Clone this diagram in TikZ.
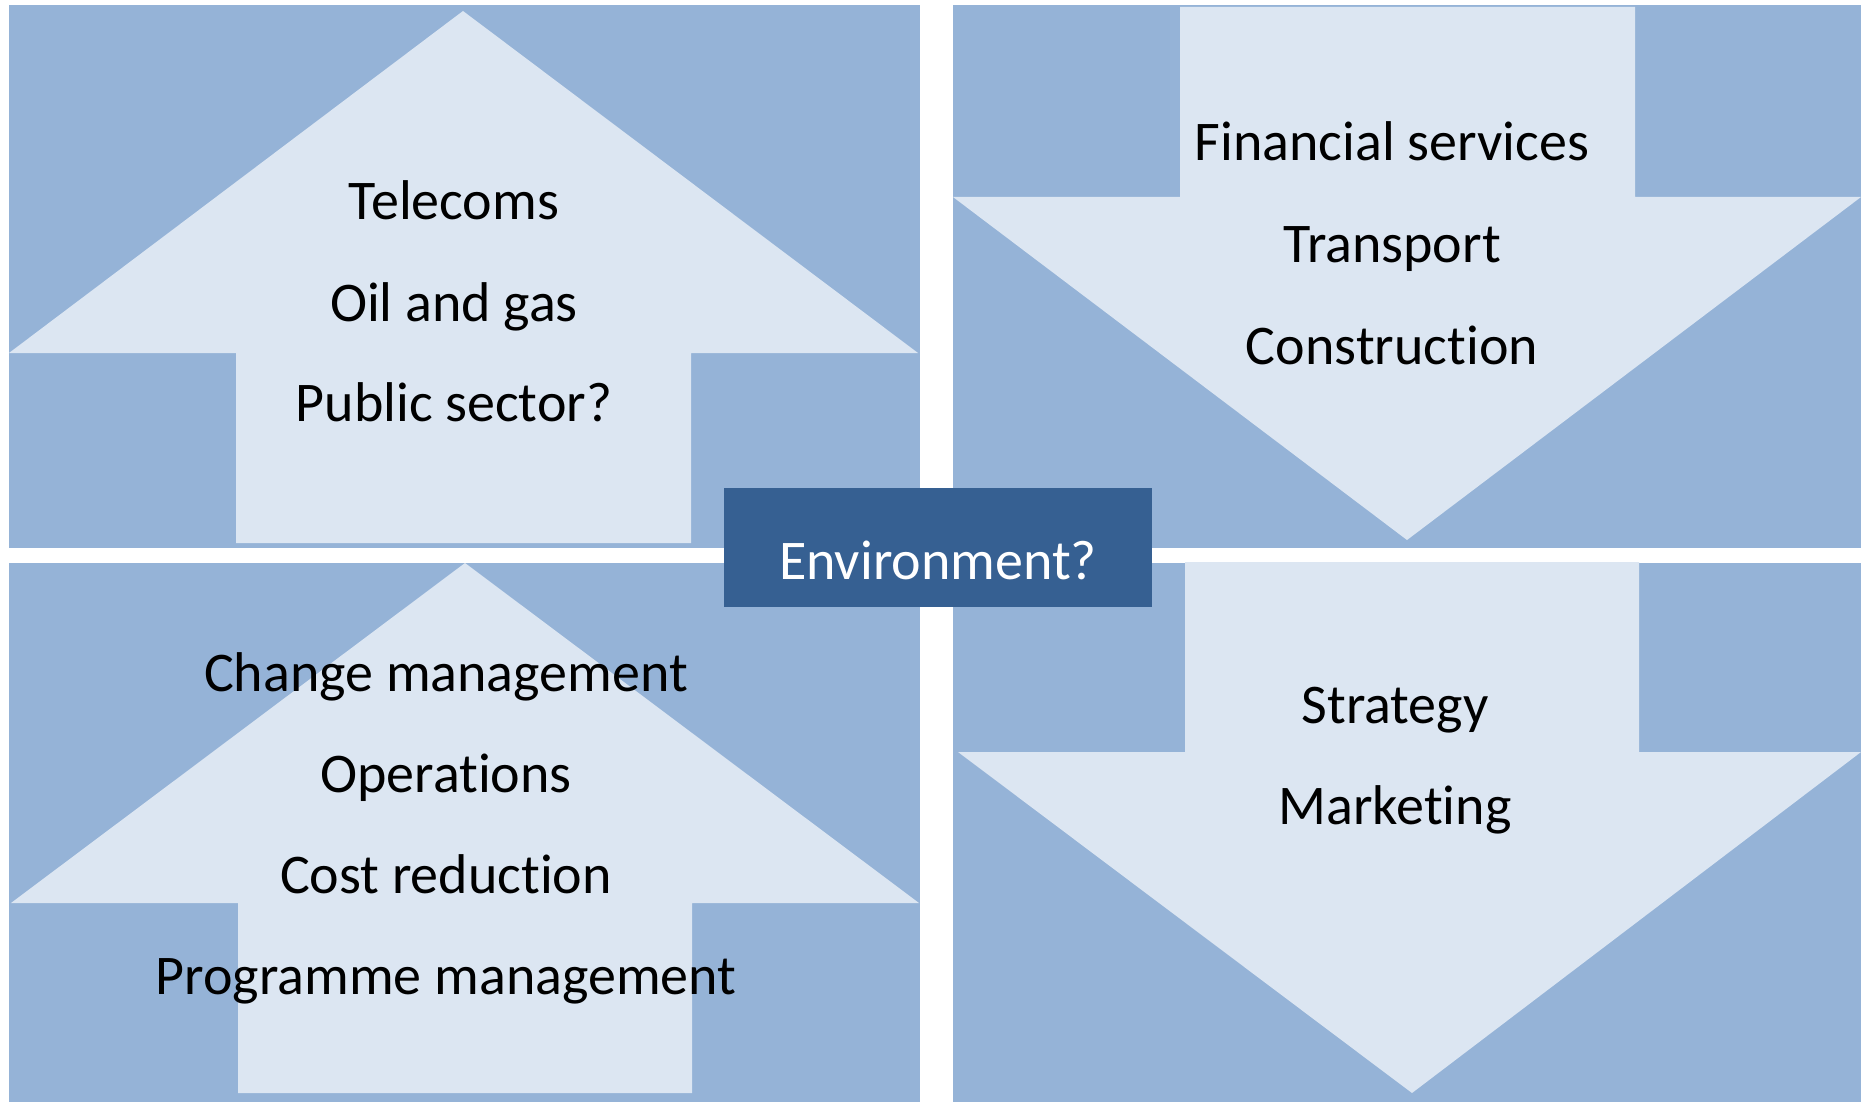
\documentclass[tikz,border=0pt]{standalone}
\usepackage{fontspec}
\setmainfont{Carlito}[RawFeature={-liga;-clig;-dlig;-calt;-rlig}]
\newcommand\tiNoLig{t\kern0pt i}
\definecolor{panel}{HTML}{95B3D7}
\definecolor{arrowc}{HTML}{DCE6F2}
\definecolor{envc}{HTML}{366092}
\begin{document}
\begin{tikzpicture}[x=1pt,y=-1pt,
  panelbox/.style={fill=panel,draw=none},
  arrowshape/.style={fill=arrowc,draw=none},
  lbl/.style={anchor=base,font=\fontsize{56}{67}\selectfont,text=black,inner sep=0pt},
  envbox/.style={fill=envc,draw=none,minimum width=428pt,minimum height=119pt,inner sep=0pt,
    text=white,font=\fontsize{56}{67}\selectfont}]
\useasboundingbox[fill=white] (0,0) rectangle (1863,1102);
% panels
\fill[panelbox] (9,5) rectangle (920,548);
\fill[panelbox] (953,5) rectangle (1861,548);
\fill[panelbox] (9,563) rectangle (920,1102);
\fill[panelbox] (953,563) rectangle (1861,1102);
% arrows
\fill[arrowshape] (463,11) -- (918,353) -- (691,353) -- (691,543) -- (236,543) -- (236,353) -- (9,353) -- cycle;
\fill[arrowshape] (1180,7) -- (1635,7) -- (1635,197) -- (1861,197) -- (1407,540) -- (953,197) -- (1180,197) -- cycle;
\fill[arrowshape] (465,563) -- (919,903) -- (692,903) -- (692,1093) -- (238,1093) -- (238,903) -- (11,903) -- cycle;
\fill[arrowshape] (1185,562) -- (1639,562) -- (1639,752) -- (1861,752) -- (1412,1093) -- (958,752) -- (1185,752) -- cycle;
% labels
\node[lbl] (t1) at (454,220) {Telecoms};
\node[lbl] (t2) at (454,321) {Oil and gas};
\node[lbl] (t3) at (454,421) {Public sector?};
\node[lbl] (r1) at (1392,161) {Financial services};
\node[lbl] (r2) at (1392,262) {Transport};
\node[lbl] (r3) at (1392,364) {Construc\tiNoLig on};
\node[lbl] (b1) at (446,691) {Change management};
\node[lbl] (b2) at (446,792) {Opera\tiNoLig ons};
\node[lbl] (b3) at (446,893) {Cost reduc\tiNoLig on};
\node[lbl] (b4) at (446,994) {Programme management};
\node[lbl] (s1) at (1395,723) {Strategy};
\node[lbl] (s2) at (1395,824) {Marke\tiNoLig ng};
% environment box
\node[envbox] (env) at (938,547.5) {};
\node[lbl,text=white] (envt) at (938,579) {Environment?};
\end{tikzpicture}
\end{document}
